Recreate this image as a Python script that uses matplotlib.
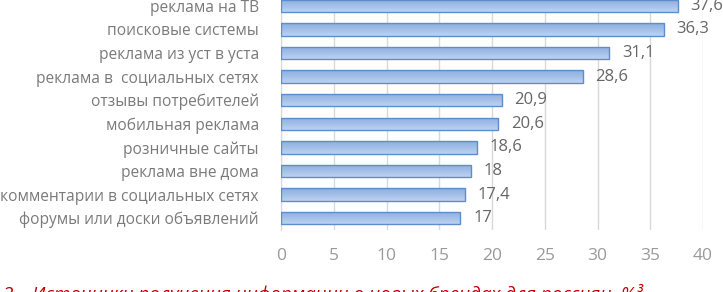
import numpy as np
import matplotlib
matplotlib.use("Agg")
import matplotlib.pyplot as plt
from matplotlib.colors import LinearSegmentedColormap

categories = [
    "реклама на ТВ",
    "поисковые системы",
    "реклама из уст в уста",
    "реклама в  социальных сетях",
    "отзывы потребителей",
    "мобильная реклама",
    "розничные сайты",
    "реклама вне дома",
    "комментарии в социальных сетях",
    "форумы или доски объявлений",
]
values = [37.6, 36.3, 31.1, 28.6, 20.9, 20.6, 18.6, 18, 17.4, 17]
value_labels = ["37,6", "36,3", "31,1", "28,6", "20,9", "20,6", "18,6", "18", "17,4", "17"]
x_ticks = [0, 5, 10, 15, 20, 25, 30, 35, 40]
caption = "2 – Источники получения информации о новых брендах для россиян, %³"

plt.rcParams["font.family"] = ["Open Sans", "DejaVu Sans"]

fig = plt.figure(figsize=(7.23, 2.92), dpi=100)
ax = fig.add_axes([0.3887, 0.2123, 0.5837, 0.8082])

n = len(categories)
ypos = np.arange(n)
bar_h = 0.53

grad = LinearSegmentedColormap.from_list("bar", ["#bed3f1", "#a3bfe8", "#8caedf"])
gimg = np.linspace(0, 1, 64).reshape(-1, 1)

bars = ax.barh(ypos, values, height=bar_h, color="none",
               edgecolor="#5f8ccb", linewidth=1.0, zorder=3)
for b in bars:
    x0, y0 = b.get_x(), b.get_y()
    w, h = b.get_width(), b.get_height()
    im = ax.imshow(gimg, cmap=grad, aspect="auto", interpolation="bilinear",
                   extent=[x0, x0 + w, y0, y0 + h], zorder=2)
    im.set_clip_path(b)

for y, v, lab in zip(ypos, values, value_labels):
    ax.text(v + 1.2, y, lab, va="center", ha="left", fontsize=12,
            color="#666666", clip_on=False)

ax.set_xlim(0, 40)
ax.set_ylim(n - 0.5, -0.5)
ax.set_yticks(ypos)
ax.set_yticklabels(categories, fontsize=11.2, color="#7a7a7a")
ax.set_xticks(x_ticks)
ax.set_xticklabels([str(t) for t in x_ticks], fontsize=12.5, color="#9a9a9a")
ax.tick_params(axis="both", length=0)
ax.tick_params(axis="y", pad=16)
ax.tick_params(axis="x", pad=13)

ax.grid(axis="x", color="#d9d9d9", linewidth=1.0, zorder=0)
ax.set_axisbelow(True)
for s in ["top", "right", "bottom"]:
    ax.spines[s].set_visible(False)
ax.spines["left"].set_color("#d9d9d9")

fig.text(0.004, -0.026, caption, color="#c00000", fontsize=13.6,
         style="italic", ha="left", va="baseline")

fig.savefig("out.png", dpi=100)
